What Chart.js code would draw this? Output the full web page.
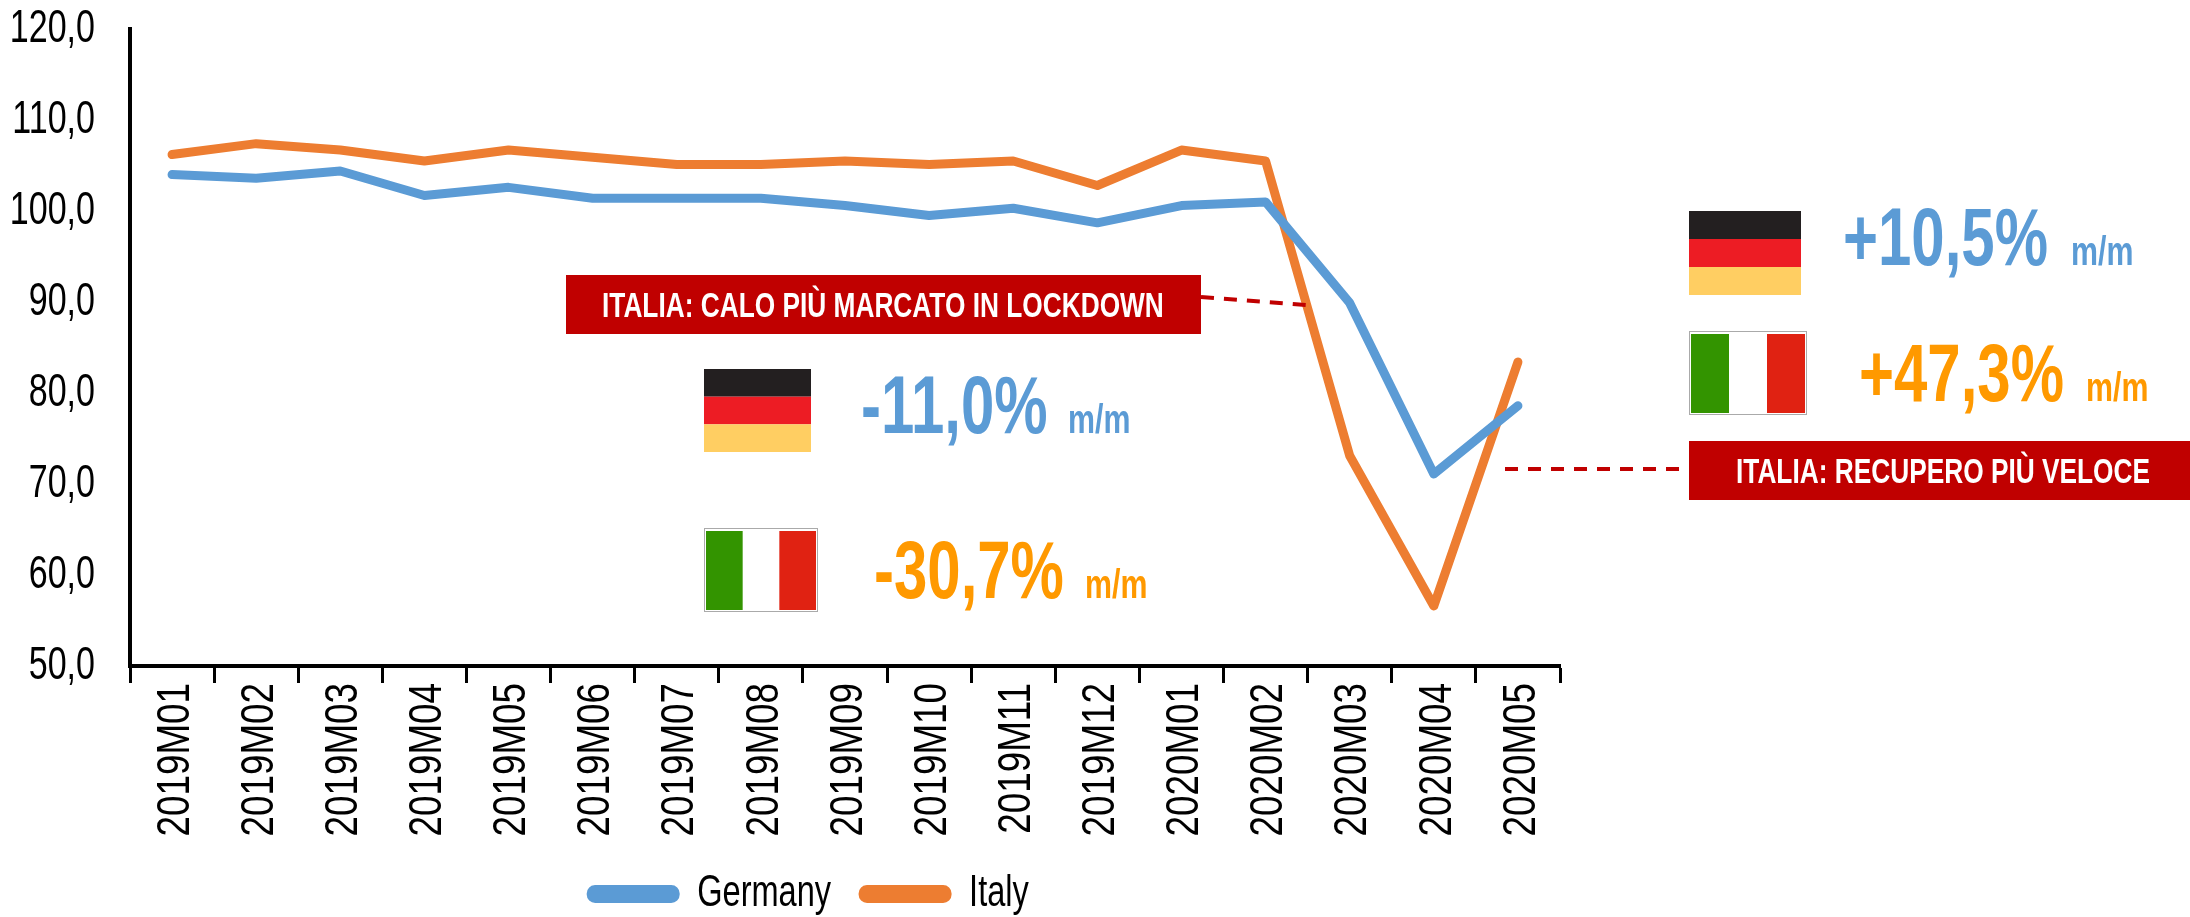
<!DOCTYPE html>
<html>
<head>
<meta charset="utf-8">
<style>
  html, body { margin: 0; padding: 0; background: #fff; }
  #wrap { position: relative; width: 2190px; height: 917px; }
</style>
<script src="https://cdn.jsdelivr.net/npm/chart.js@4"></script>
</head>
<body>
<div id="wrap"><canvas id="prodChart" width="2190" height="917"></canvas></div>
<script>
var labels = ['2019M01','2019M02','2019M03','2019M04','2019M05','2019M06','2019M07','2019M08','2019M09','2019M10','2019M11','2019M12','2020M01','2020M02','2020M03','2020M04','2020M05'];
var germany = [104.0,103.6,104.4,101.7,102.6,101.4,101.4,101.4,100.6,99.5,100.3,98.7,100.6,101.0,89.9,71.1,78.6];
var italy = [106.2,107.4,106.7,105.5,106.7,105.9,105.1,105.1,105.5,105.1,105.5,102.8,106.7,105.5,73.1,56.6,83.4];
var yTicks = [50,60,70,80,90,100,110,120];

var sans = '"Liberation Sans", Arial, sans-serif';
var BLUE = '#5B9BD5', ORANGE = '#ED7D31', AMBER = '#FF9900', DARKRED = '#C00000';

var ctx = document.getElementById('prodChart').getContext('2d');

// the original has squeezed text and no narrow font is installed,
// so text is squeezed along its own direction
var rawFill = ctx.fillText.bind(ctx);
var rawMeasure = ctx.measureText.bind(ctx);
function squeeze() {
    var m = ctx.getTransform();
    return Math.abs(m.b) > 0.5 ? 0.8 : 0.74;
}
ctx.fillText = function (text, x, y) {
    var s = squeeze();
    ctx.save();
    ctx.translate(x, y);
    ctx.scale(s, 1);
    rawFill(text, 0, 0);
    ctx.restore();
};
ctx.measureText = function (text) {
    return { width: rawMeasure(text).width * 0.74 };
};

function germanFlag(c, x, y, w, h) {
    c.fillStyle = '#231F20'; c.fillRect(x, y, w, h / 3);
    c.fillStyle = '#ED1C24'; c.fillRect(x, y + h / 3, w, h / 3);
    c.fillStyle = '#FFCE62'; c.fillRect(x, y + 2 * h / 3, w, h / 3);
}

function italianFlag(c, x, y, w, h) {
    c.fillStyle = '#AAAAAA'; c.fillRect(x, y, w, h);
    c.fillStyle = '#FFFFFF'; c.fillRect(x + 1, y + 1, w - 2, h - 2);
    var s = (w - 4) / 3;
    c.fillStyle = '#339400'; c.fillRect(x + 2, y + 3, s, h - 5);
    c.fillStyle = '#E02212'; c.fillRect(x + 2 + 2 * s, y + 3, s, h - 5);
}

function dashed(c, x1, y1, x2, y2) {
    c.save();
    c.strokeStyle = DARKRED;
    c.lineWidth = 4;
    c.setLineDash([13, 10]);
    c.beginPath(); c.moveTo(x1, y1); c.lineTo(x2, y2); c.stroke();
    c.restore();
}

function redBox(c, text, x, y, w, h, tx) {
    c.fillStyle = DARKRED;
    c.fillRect(x, y, w, h);
    c.fillStyle = '#FFFFFF';
    c.font = 'bold 35.5px ' + sans;
    c.textAlign = 'left';
    c.textBaseline = 'alphabetic';
    c.fillText(text, tx, y + 42);
}

function pct(c, big, small, color, x, smallX, base) {
    c.fillStyle = color;
    c.textAlign = 'left';
    c.textBaseline = 'alphabetic';
    c.font = 'bold 81px ' + sans;
    c.fillText(big, x, base);
    c.font = 'bold 41px ' + sans;
    c.fillText(small, smallX, base);
}

// callouts, flags and m/m figures sit on top of the chart
var calloutPlugin = {
    id: 'callouts',
    afterLayout: function (chart) {
        chart.legend.left += 30;
        chart.legend.right += 30;
        chart.legend.top -= 16;
        chart.legend.bottom -= 16;
    },
    afterDraw: function (chart) {
        var c = chart.ctx;
        c.save();
        dashed(c, 1201, 297, 1306, 305);
        dashed(c, 1505, 469, 1689, 469);
        redBox(c, 'ITALIA: CALO PIÙ MARCATO IN LOCKDOWN', 566, 275, 635, 59, 602);
        redBox(c, 'ITALIA: RECUPERO PIÙ VELOCE', 1689, 441, 501, 59, 1736);
        germanFlag(c, 704, 369, 107, 83);
        italianFlag(c, 704, 528, 114, 84);
        germanFlag(c, 1689, 211, 112, 84);
        italianFlag(c, 1689, 331, 118, 84);
        pct(c, '-11,0%', 'm/m', BLUE, 861, 1068, 433);
        pct(c, '-30,7%', 'm/m', AMBER, 874, 1085, 598);
        pct(c, '+10,5%', 'm/m', BLUE, 1843, 2071, 265);
        pct(c, '+47,3%', 'm/m', AMBER, 1859, 2086, 401);
        c.restore();
    }
};

var prodChart = new Chart(ctx, {
    type: 'line',
    data: {
        labels: labels,
        datasets: [
            { label: 'Germany', data: germany, borderColor: BLUE, backgroundColor: BLUE },
            { label: 'Italy', data: italy, borderColor: ORANGE, backgroundColor: ORANGE }
        ]
    },
    options: {
        responsive: false,
        animation: false,
        layout: { padding: { top: 29, right: 630, bottom: -25, left: 0 } },
        elements: {
            line: { borderWidth: 9, tension: 0, borderCapStyle: 'round', borderJoinStyle: 'round' },
            point: { radius: 0 }
        },
        plugins: {
            legend: {
                position: 'bottom',
                labels: {
                    boxWidth: 84, boxHeight: 9, padding: 32,
                    useBorderRadius: true, borderRadius: 4,
                    color: '#000',
                    font: { family: sans, size: 44 }
                }
            },
            tooltip: { enabled: false }
        },
        scales: {
            x: {
                offset: true,
                grid: { offset: true, drawOnChartArea: false, drawTicks: true, tickLength: 17, tickColor: '#000', tickWidth: 3 },
                border: { color: '#000', width: 4 },
                ticks: { color: '#000', font: { family: sans, size: 46 }, minRotation: 90, maxRotation: 90, padding: 0, labelOffset: 4, autoSkip: false },
                afterFit: function (s) { s.height = 190; }
            },
            y: {
                min: 50,
                max: 120,
                afterBuildTicks: function (s) { s.ticks = yTicks.map(function (v) { return { value: v }; }); },
                grid: { drawOnChartArea: false, drawTicks: false },
                border: { color: '#000', width: 4 },
                ticks: {
                    color: '#000', padding: 35,
                    font: { family: sans, size: 46 },
                    callback: function (v) { return v.toFixed(1).replace('.', ','); }
                },
                afterFit: function (s) { s.width = 130; s.paddingTop = 0; s.paddingBottom = 0; }
            }
        }
    },
    plugins: [calloutPlugin]
});
</script>
</body>
</html>
